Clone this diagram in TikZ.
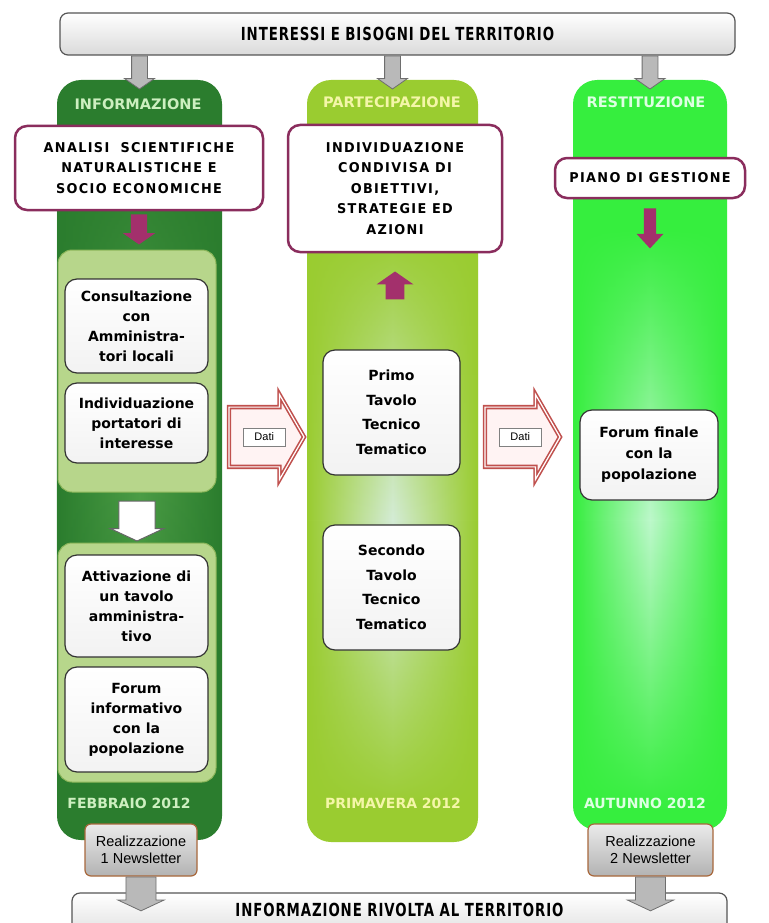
\documentclass[tikz,border=0pt]{standalone}
\usepackage{fontspec}
\setmainfont{DejaVu Sans}
\newfontfamily\barfont[FakeStretch=0.74,LetterSpace=5]{DejaVu Sans}
\newfontfamily\capsfont[FakeStretch=0.95,LetterSpace=10]{DejaVu Sans}
\newfontfamily\newsfont{Liberation Sans}
\usetikzlibrary{shapes.arrows,positioning,calc,fadings}
\definecolor{barline}{HTML}{555555}
\definecolor{barfill}{HTML}{DADADA}
\definecolor{infogreen}{HTML}{2B7D2E}
\definecolor{infomid}{HTML}{4E9F47}
\definecolor{partgreen}{HTML}{9ACC30}
\definecolor{partmid}{HTML}{D4ECD6}
\definecolor{restgreen}{HTML}{36EE3E}
\definecolor{restmid}{HTML}{BDF8CB}
\definecolor{infotext}{HTML}{CDEFC0}
\definecolor{parttext}{HTML}{F4F6A8}
\definecolor{resttext}{HTML}{DDFFE2}
\definecolor{panelgreen}{HTML}{B7D68B}
\definecolor{panelline}{HTML}{8CB65A}
\definecolor{plum}{HTML}{8A2D5D}
\definecolor{pinkarrow}{HTML}{A3306C}
\definecolor{datired}{HTML}{C0504D}
\definecolor{datifill}{HTML}{FFF3F3}
\definecolor{arrowgray}{HTML}{6E6E6E}
\definecolor{arrowfill}{HTML}{B9B9B9}
\definecolor{newsbrown}{HTML}{A8683C}
\tikzfading[name=glowfade, top color=transparent!100, bottom color=transparent!100, middle color=transparent!0]

\begin{document}
\begin{tikzpicture}[x=1pt, y=-1pt,
  topbar/.style={draw=barline, line width=1.2pt, rounded corners=8pt, top color=white, bottom color=barfill, minimum height=42pt, font=\barfont\bfseries\fontsize{18}{20}\selectfont},
  bartext/.style={font=\barfont\bfseries\fontsize{18}{20}\selectfont},
  phasecol/.style={rounded corners=24pt, minimum height=760pt},
  glow/.style={path fading=glowfade, inner sep=0pt},
  phasetitle/.style={font=\bfseries\fontsize{14.5}{16}\selectfont},
  subpanel/.style={fill=panelgreen, draw=panelline, line width=1pt, rounded corners=14pt, minimum width=158pt},
  stepbox/.style={draw=black!80, line width=1.2pt, rounded corners=12pt, top color=white, bottom color=black!5, align=center, minimum width=143pt, font=\bfseries\fontsize{14}{20}\selectfont},
  tavolo/.style={stepbox, minimum width=137pt, minimum height=125pt, font=\bfseries\fontsize{14}{24.5}\selectfont},
  goalbox/.style={draw=plum, line width=2.5pt, rounded corners=12pt, fill=white, align=center, font=\capsfont\bfseries\fontsize{13.5}{20.5}\selectfont},
  newsbox/.style={draw=newsbrown, line width=1.2pt, rounded corners=6pt, top color=black!8, bottom color=black!30, align=center, minimum height=52pt, font=\newsfont\fontsize{14.5}{17}\selectfont},
  grayarrow/.style={single arrow, draw=arrowgray, fill=arrowfill, line width=0.8pt, inner sep=7.5pt, minimum width=28pt, minimum height=33pt, single arrow tip angle=110, shape border rotate=270},
  pinkdown/.style={single arrow, fill=pinkarrow, inner sep=7pt, minimum width=32pt, minimum height=30pt, single arrow tip angle=110, shape border rotate=270},
  whitearrow/.style={single arrow, draw=black!60, fill=white, line width=1pt, inner sep=15pt, minimum width=53pt, minimum height=40pt, single arrow tip angle=130, shape border rotate=270},
  datiarrow/.style={single arrow, draw=datired, line width=1.6pt, double=white, double distance=1.2pt, fill=datifill, inner xsep=0pt, inner ysep=16pt, minimum width=85pt, minimum height=75pt, single arrow tip angle=120},
  datilabel/.style={draw=black!50, fill=white, inner sep=1pt, minimum width=42pt, minimum height=18pt, font=\newsfont\fontsize{11}{12}\selectfont},
  datetitle/.style={font=\bfseries\fontsize{14}{16}\selectfont}]
\fill[white] (0,0) rectangle (768,923);
\useasboundingbox (0,0) rectangle (768,923);

\node at (139.5, 460) [phasecol, minimum width=165pt, fill=infogreen] (col1) {};
\node at (392.5, 461) [phasecol, minimum width=171pt, minimum height=762pt, fill=partgreen] (col2) {};
\node at (650, 455) [phasecol, minimum width=154pt, minimum height=750pt, fill=restgreen] (col3) {};
\node at (139.5, 470) [glow, minimum width=165pt, minimum height=680pt, left color=infogreen, right color=infogreen, middle color=infomid] (glow1) {};
\node at (392.5, 520) [glow, minimum width=171pt, minimum height=580pt, left color=partgreen, right color=partgreen, middle color=partmid] (glow2) {};
\node at (650, 520) [glow, minimum width=154pt, minimum height=580pt, left color=restgreen, right color=restgreen, middle color=restmid] (glow3) {};

\node at (138, 104) [phasetitle, text=infotext] (t1) {INFORMAZIONE};
\node at (392, 102) [phasetitle, text=parttext] (t2) {PARTECIPAZIONE};
\node at (646, 102) [phasetitle, text=resttext] (t3) {RESTITUZIONE};
\node at (129, 803) [datetitle, text=infotext] (d1) {FEBBRAIO 2012};
\node at (393, 803) [datetitle, text=parttext] (d2) {PRIMAVERA 2012};
\node at (645, 803) [datetitle, text=resttext] (d3) {AUTUNNO 2012};

\node at (397.5, 34) [topbar, minimum width=675pt] (needs) {INTERESSI E BISOGNI DEL TERRITORIO};
\node at (399.5, 918) [topbar, minimum width=655pt, minimum height=50pt] (infobar) {};
\node at (399.5, 910) [bartext] (infotxt) {INFORMAZIONE RIVOLTA AL TERRITORIO};

\node at (137, 371) [subpanel, minimum height=242pt] (panel1) {};
\node at (137, 662.5) [subpanel, minimum height=239pt] (panel2) {};

\node at (139, 168) [goalbox, minimum width=248pt, minimum height=84pt] (analisi) {ANALISI\hspace{0.4em} SCIENTIFICHE\\NATURALISTICHE E\\SOCIO ECONOMICHE};
\node at (395, 188.5) [goalbox, minimum width=214pt, minimum height=127pt] (obiet) {INDIVIDUAZIONE\\CONDIVISA DI\\OBIETTIVI,\\STRATEGIE ED\\AZIONI};
\node at (650, 178) [goalbox, minimum width=190pt, minimum height=40pt] (piano) {PIANO DI GESTIONE};

\node at (136.5, 326) [stepbox, minimum height=94pt] (consult) {Consultazione\\con\\Amministra-\\tori locali};
\node at (136.5, 423) [stepbox, minimum height=80pt] (portatori) {Individuazione\\portatori di\\interesse};
\node at (136.5, 606) [stepbox, minimum height=102pt] (attiv) {Attivazione di\\un tavolo\\amministra-\\tivo};
\node at (136.5, 719.5) [stepbox, minimum height=105pt] (forumi) {Forum\\informativo\\con la\\popolazione};
\node at (391.5, 412.5) [tavolo] (primo) {Primo\\Tavolo\\Tecnico\\Tematico};
\node at (391.5, 587.5) [tavolo] (secondo) {Secondo\\Tavolo\\Tecnico\\Tematico};
\node at (649, 455) [stepbox, minimum width=138pt, minimum height=90pt, font=\bfseries\fontsize{14}{21}\selectfont] (forumf) {Forum finale\\con la\\popolazione};

\node at (141, 850) [newsbox, minimum width=112pt] (news1) {Realizzazione\\1 Newsletter};
\node at (650.5, 850) [newsbox, minimum width=125pt] (news2) {Realizzazione\\2 Newsletter};

\node at (needs.south -| col1.north) [grayarrow, anchor=tail] (in1) {};
\node at (needs.south -| col2.north) [grayarrow, anchor=tail] (in2) {};
\node at (needs.south -| col3.north) [grayarrow, anchor=tail] (in3) {};
\node at (news1.south) [grayarrow, anchor=tail, inner sep=13pt, minimum width=46pt, minimum height=27pt, single arrow tip angle=130] (out1) {};
\node at (news2.south) [grayarrow, anchor=tail, inner sep=13pt, minimum width=46pt, minimum height=27pt, single arrow tip angle=130] (out2) {};

\node at ([yshift=-3pt]analisi.south) [pinkdown, anchor=tail] (p1) {};
\node at ([yshift=-18pt]obiet.south) [pinkdown, shape border rotate=90, minimum width=37pt, minimum height=28pt, anchor=tip] (p2) {};
\node at ([yshift=-9pt]piano.south) [pinkdown, anchor=tail, inner sep=6pt, minimum width=26pt, minimum height=40pt, single arrow tip angle=85] (p3) {};
\node at ([yshift=-8pt]panel1.south) [whitearrow, anchor=tail] (w1) {};

\node at ([xshift=6pt]col1.east |- 0,437) [datiarrow, anchor=tail] (dati1) {};
\node at ([xshift=6pt]col2.east |- 0,437) [datiarrow, anchor=tail] (dati2) {};
\node at ($(dati1.tail)!0.47!(dati1.tip)$) [datilabel] (dl1) {Dati};
\node at ($(dati2.tail)!0.47!(dati2.tip)$) [datilabel] (dl2) {Dati};
\end{tikzpicture}
\end{document}
